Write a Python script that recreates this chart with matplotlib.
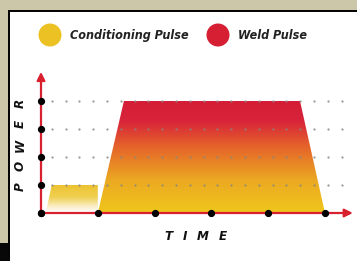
import numpy as np
import matplotlib
matplotlib.use('Agg')
from matplotlib import pyplot as plt
from matplotlib.patches import Polygon, Rectangle, Circle
from matplotlib.colors import LinearSegmentedColormap

# data (time units / power levels)
time_ticks = [0, 1, 2, 3, 4, 5]
power_ticks = [0, 1, 2, 3, 4]
cond_time = [0.09, 0.19, 1.0, 1.0]
cond_power = [0.08, 1.0, 1.0, 0.08]
weld_time = [1.0, 1.46, 4.56, 5.0]
weld_power = [0.0, 4.0, 4.0, 0.0]
legend_labels = ['Conditioning Pulse', 'Weld Pulse']

TAN = '#cdc7a9'
RED = '#d8202f'
YELLOW = '#ecc124'
FONT = dict(family='DejaVu Sans', fontstretch='condensed', fontweight='bold', fontstyle='italic')

W, H = 357, 261
fig = plt.figure(figsize=(W / 100, H / 100), dpi=100)
fig.patch.set_facecolor(TAN)

# background / frame in pixel coordinates
bg = fig.add_axes([0, 0, 1, 1])
bg.set_xlim(0, W)
bg.set_ylim(H, 0)
bg.axis('off')
bg.add_patch(Rectangle((8.5, 10.5), W, H, facecolor='white', edgecolor='black', lw=1.4))
bg.add_patch(Rectangle((0, 243), 8, 20, facecolor='#080808', edgecolor='none'))

# legend
for cx, col, tx, lab in [(50, YELLOW, 70, legend_labels[0]), (218, '#d61f32', 238, legend_labels[1])]:
    bg.add_patch(Circle((cx, 35), 11.5, facecolor=col, edgecolor='none'))
    bg.text(tx, 35.5, lab, fontsize=9, color='#222222', va='center', ha='left', **FONT)

# axis titles, spaced letters
for ch, y in zip('POWER', [187, 166, 145, 124, 103]):
    bg.text(20, y, ch, fontsize=9.5, rotation=90, ha='center', va='center', color='#111111', **FONT)
for ch, x in zip('TIME', [168, 185, 203, 223]):
    bg.text(x, 236, ch, fontsize=9.5, ha='center', va='center', color='#111111', **FONT)

# chart axes: 56.8 px per time unit, 28 px per power unit, origin at (41, 213)
sx, sy, ox, oy = 56.8, 28.0, 41.0, 213.0
xlo, xhi, ylo, yhi = -0.4, 5.55, -0.55, 5.2
left = (ox + xlo * sx) / W
right = (ox + xhi * sx) / W
top = (oy - yhi * sy) / H
bottom = (oy - ylo * sy) / H
ax = fig.add_axes([left, 1 - bottom, right - left, bottom - top])
ax.set_xlim(xlo, xhi)
ax.set_ylim(ylo, yhi)
ax.axis('off')
ax.patch.set_alpha(0)

# weld pulse gradient
weld_cmap = LinearSegmentedColormap.from_list('weld', [
    (0.0, '#efc81c'), (0.3, '#eba722'), (0.6, '#e5622a'), (0.82, '#d8253a'), (1.0, '#d41d36')])
grad = np.linspace(0, 1, 256).reshape(-1, 1)
poly = Polygon(list(zip(weld_time, weld_power)), closed=True, facecolor='none', edgecolor='none')
ax.add_patch(poly)
im = ax.imshow(grad, cmap=weld_cmap, origin='lower', aspect='auto',
               extent=(min(weld_time), max(weld_time), 0, max(weld_power)), zorder=1)
im.set_clip_path(poly)

# conditioning pulse gradient (white to yellow)
cond_cmap = LinearSegmentedColormap.from_list('cond', [
    (0.0, '#ffffff'), (0.2, '#fbf1d0'), (0.55, '#f0d053'), (1.0, '#edc12c')])
poly2 = Polygon(list(zip(cond_time, cond_power)), closed=True, facecolor='none', edgecolor='none')
ax.add_patch(poly2)
im2 = ax.imshow(grad, cmap=cond_cmap, origin='lower', aspect='auto',
                extent=(min(cond_time), max(cond_time), 0, 1), zorder=1)
im2.set_clip_path(poly2)

# dotted guides
gx = np.arange(0.19, 5.3, 0.243)
for p in power_ticks[1:]:
    ax.plot(gx, [p] * len(gx), ls='none', marker='o', ms=1.6, mec='none',
            color='#8a8580', alpha=0.85, zorder=2)

# axes with arrows
arrow = dict(arrowstyle='-|>', color=RED, lw=1.6, mutation_scale=12, shrinkA=0, shrinkB=0)
ax.annotate('', xy=(5.49, 0), xytext=(0, 0), arrowprops=arrow, zorder=3)
ax.annotate('', xy=(0, 5.04), xytext=(0, 0), arrowprops=arrow, zorder=3)

ax.plot(time_ticks, [0] * len(time_ticks), ls='none', marker='o', ms=4.2, color='black', zorder=4, clip_on=False)
ax.plot([0] * len(power_ticks), power_ticks, ls='none', marker='o', ms=4.2, color='black', zorder=4, clip_on=False)

fig.savefig('out.png', dpi=100, facecolor=fig.get_facecolor())
